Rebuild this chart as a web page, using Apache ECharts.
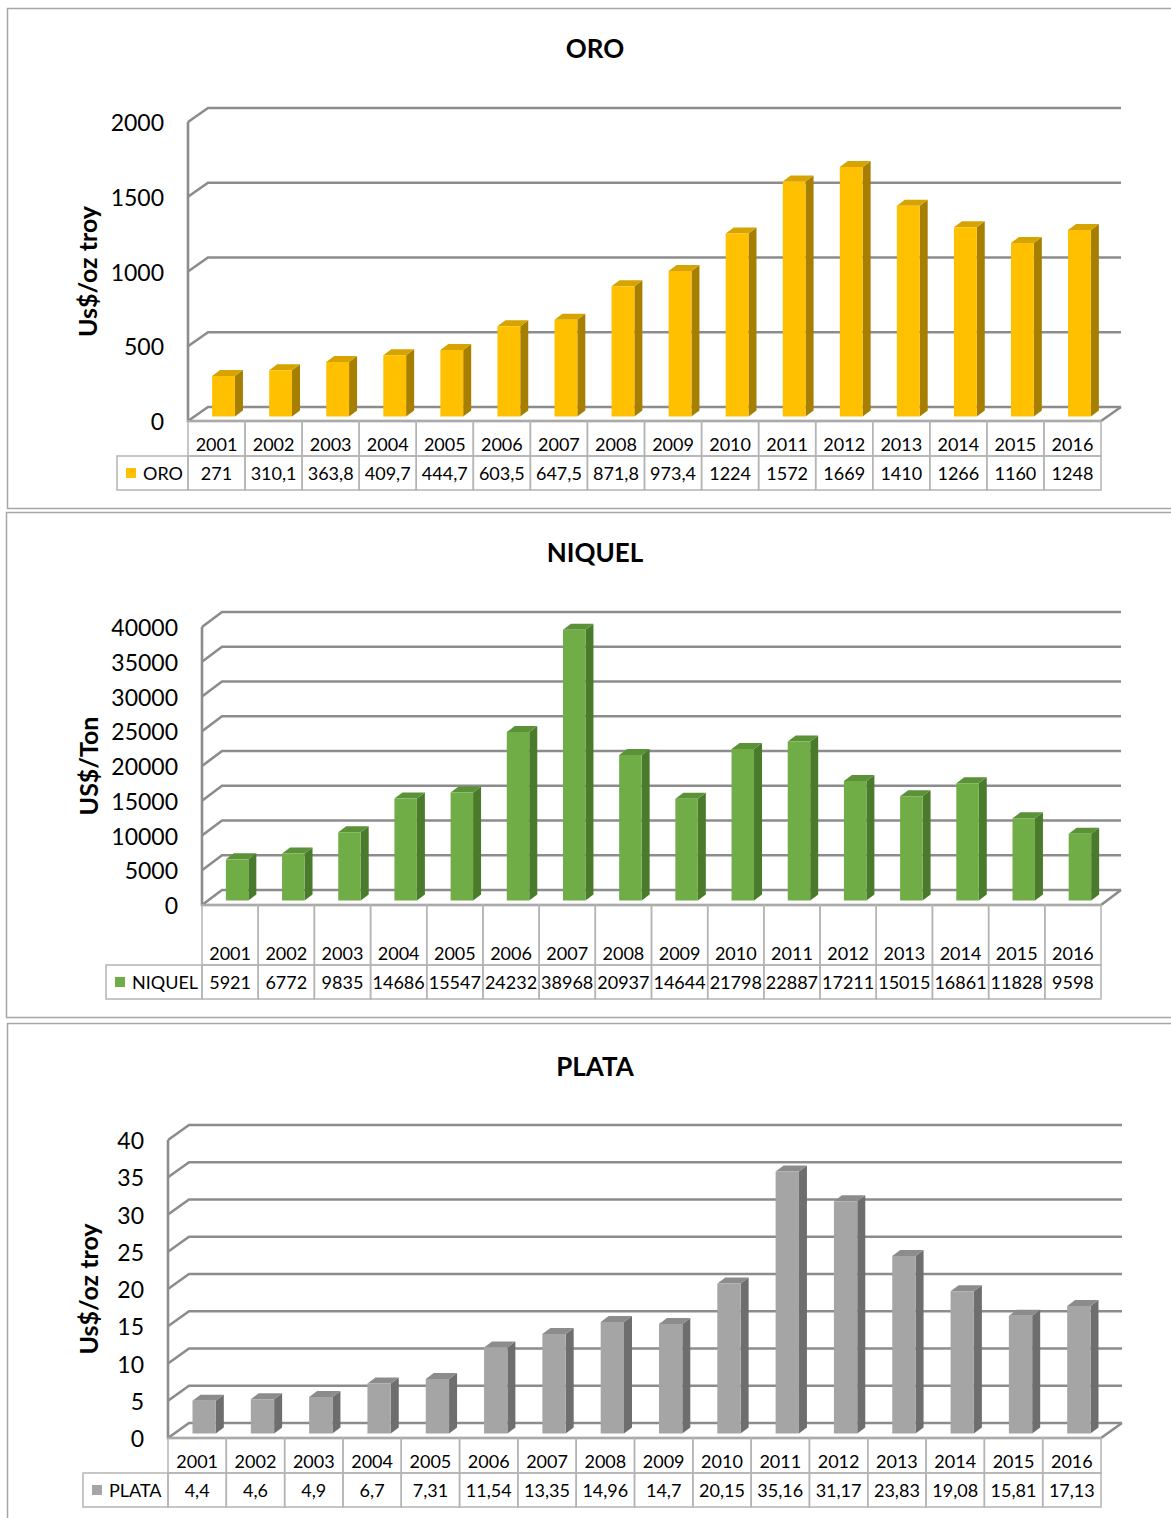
<!DOCTYPE html>
<html>
<head>
<meta charset="utf-8">
<script src="https://cdn.jsdelivr.net/npm/echarts@6/dist/echarts.min.js"></script>
<style>
  html, body { margin: 0; padding: 0; background: #ffffff; }
  #chart { width: 1171px; height: 1518px; }
</style>
</head>
<body>
<div id="chart"></div>
<script>
// Annual average prices 2001-2016
const years = ['2001', '2002', '2003', '2004', '2005', '2006', '2007', '2008',
               '2009', '2010', '2011', '2012', '2013', '2014', '2015', '2016'];

const oroValues = [271, 310.1, 363.8, 409.7, 444.7, 603.5, 647.5, 871.8,
                   973.4, 1224, 1572, 1669, 1410, 1266, 1160, 1248];
const niquelValues = [5921, 6772, 9835, 14686, 15547, 24232, 38968, 20937,
                      14644, 21798, 22887, 17211, 15015, 16861, 11828, 9598];
const plataValues = [4.4, 4.6, 4.9, 6.7, 7.31, 11.54, 13.35, 14.96,
                     14.7, 20.15, 35.16, 31.17, 23.83, 19.08, 15.81, 17.13];

const oroTicks = [0, 500, 1000, 1500, 2000];
const niquelTicks = [0, 5000, 10000, 15000, 20000, 25000, 30000, 35000, 40000];
const plataTicks = [0, 5, 10, 15, 20, 25, 30, 35, 40];

const FONT = 'Lato, "Open Sans", sans-serif';
const WALL = '#8C8C8C';
const CELL = '#B4B4B4';

// One panel per metal: frame, title, 3D plot box and data table below it
const panels = [
  {
    name: 'ORO', unit: 'Us$/oz troy', values: oroValues, ticks: oroTicks,
    colors: { front: '#FFC000', top: '#D6A300', side: '#A67F00' },
    frame: [7.5, 8.5, 1200, 500], titleY: 48,
    grid: { left: 188, top: 122, height: 299 }, depth: [20, -14],
    headH: 35, rowH: 34, legendW: 71
  },
  {
    name: 'NIQUEL', unit: 'US$/Ton', values: niquelValues, ticks: niquelTicks,
    colors: { front: '#70AD47', top: '#5B9137', side: '#4A7A2C' },
    frame: [6.5, 512.5, 1200, 505], titleY: 552,
    grid: { left: 202, top: 627, height: 278 }, depth: [20, -15],
    headH: 60, rowH: 34, legendW: 96
  },
  {
    name: 'PLATA', unit: 'Us$/oz troy', values: plataValues, ticks: plataTicks,
    colors: { front: '#A5A5A5', top: '#8C8C8C', side: '#6E6E6E' },
    frame: [7.5, 1023.5, 1200, 600], titleY: 1066,
    grid: { left: 168, top: 1140, height: 298 }, depth: [21, -15],
    headH: 35, rowH: 34, legendW: 85
  }
];

const fmt = v => String(v).replace('.', ',');

const grids = [], xAxes = [], yAxes = [], series = [], graphics = [];

panels.forEach((p, k) => {
  const [dx, dy] = p.depth;
  grids.push({ left: p.grid.left, top: p.grid.top, height: p.grid.height, right: 70, containLabel: false });
  xAxes.push({ type: 'category', gridIndex: k, data: years, show: false });
  yAxes.push({
    type: 'value', gridIndex: k, min: p.ticks[0], max: p.ticks[p.ticks.length - 1],
    interval: p.ticks[1] - p.ticks[0],
    axisLine: { show: false }, axisTick: { show: false }, splitLine: { show: false },
    axisLabel: { margin: 24, color: '#000', fontFamily: FONT, fontSize: 23, formatter: v => String(v) },
    name: p.unit, nameLocation: 'middle', nameRotate: 90, nameGap: p.grid.left - 100,
    nameTextStyle: { color: '#000', fontFamily: FONT, fontSize: 25, fontWeight: 'bold' }
  });

  // frame and title
  graphics.push({
    type: 'rect', shape: { x: p.frame[0], y: p.frame[1], width: p.frame[2], height: p.frame[3] },
    style: { fill: 'none', stroke: '#A6A6A6', lineWidth: 1.5 }, z: 0
  });
  graphics.push({
    type: 'text', x: 595, y: p.titleY,
    style: { text: p.name, align: 'center', verticalAlign: 'middle',
             font: 'bold 26px ' + FONT, fill: '#000' }, z: 10
  });

  // side wall, back wall gridlines and floor
  series.push({
    type: 'custom', xAxisIndex: k, yAxisIndex: k, z: 1, silent: true,
    data: p.ticks.map(t => [0, t]), encode: { x: 0, y: 1 },
    renderItem: (params, api) => {
      const cs = params.coordSys;
      const L = cs.x, R = cs.x + cs.width;
      const y = api.coord([0, api.value(1)])[1];
      const line = { stroke: WALL, lineWidth: 2.6, fill: 'none', lineJoin: 'miter' };
      const children = [{
        type: 'polyline', shape: { points: [[L, y], [L + dx, y + dy], [R + dx, y + dy]] }, style: line
      }];
      if (params.dataIndex === 0) {
        children.push({ type: 'polyline', shape: { points: [[L, cs.y], [L, y], [R, y], [R + dx, y + dy]] }, style: line });
      }
      return { type: 'group', children };
    }
  });

  // 3D columns
  series.push({
    type: 'custom', xAxisIndex: k, yAxisIndex: k, z: 3, silent: true,
    data: p.values.map((v, i) => [i, v]), encode: { x: 0, y: 1 },
    renderItem: (params, api) => {
      const i = api.value(0), v = api.value(1);
      const pt = api.coord([i, v]);
      const base = api.coord([i, 0]);
      const bw = api.size([1, 0])[0];
      const w = bw * 0.4;
      const cx = pt[0] + 7, sy = -4.5;
      const x0 = cx - w / 2, x1 = cx + w / 2;
      const yt = pt[1] + sy, yb = base[1] + sy;
      const ddx = 8, ddy = -6;
      return {
        type: 'group', children: [
          { type: 'polygon', shape: { points: [[x1, yt], [x1 + ddx, yt + ddy], [x1 + ddx, yb + ddy], [x1, yb]] },
            style: { fill: p.colors.side } },
          { type: 'polygon', shape: { points: [[x0, yt], [x0 + ddx, yt + ddy], [x1 + ddx, yt + ddy], [x1, yt]] },
            style: { fill: p.colors.top } },
          { type: 'rect', shape: { x: x0, y: yt, width: w, height: yb - yt },
            style: { fill: p.colors.front } }
        ]
      };
    }
  });

  // data table under the plot
  series.push({
    type: 'custom', xAxisIndex: k, yAxisIndex: k, z: 2, silent: true,
    data: p.values.map((v, i) => [i, v]), encode: { x: 0, y: 1 },
    renderItem: (params, api) => {
      const cs = params.coordSys;
      const i = api.value(0), v = api.value(1);
      const cx = api.coord([i, 0])[0];
      const bw = api.size([1, 0])[0];
      const y0 = cs.y + cs.height;
      const yH = y0 + p.headH, yE = yH + p.rowH;
      const cell = { fill: 'none', stroke: CELL, lineWidth: 1.5 };
      const txt = (t, x, y, align) => ({
        type: 'text', style: { text: t, x, y, align: align || 'center', verticalAlign: 'middle',
                               font: '18px ' + FONT, fill: '#000' }
      });
      const children = [
        { type: 'rect', shape: { x: cx - bw / 2, y: y0, width: bw, height: p.headH }, style: cell },
        { type: 'rect', shape: { x: cx - bw / 2, y: yH, width: bw, height: p.rowH }, style: cell },
        txt(years[i], cx, yH - 12),
        txt(fmt(v), cx, yH + p.rowH / 2)
      ];
      if (i === 0) {
        const lx = cs.x - p.legendW;
        children.push(
          { type: 'rect', shape: { x: lx, y: yH, width: p.legendW, height: p.rowH }, style: cell },
          { type: 'rect', shape: { x: lx + 9, y: yH + p.rowH / 2 - 5, width: 10, height: 10 },
            style: { fill: p.colors.front } },
          txt(p.name, lx + 26, yH + p.rowH / 2, 'left')
        );
      }
      return { type: 'group', children };
    }
  });
});

const chart = echarts.init(document.getElementById('chart'), null, { renderer: 'svg' });
chart.setOption({
  animation: false,
  backgroundColor: '#ffffff',
  grid: grids,
  xAxis: xAxes,
  yAxis: yAxes,
  series: series,
  graphic: graphics
});
</script>
</body>
</html>
